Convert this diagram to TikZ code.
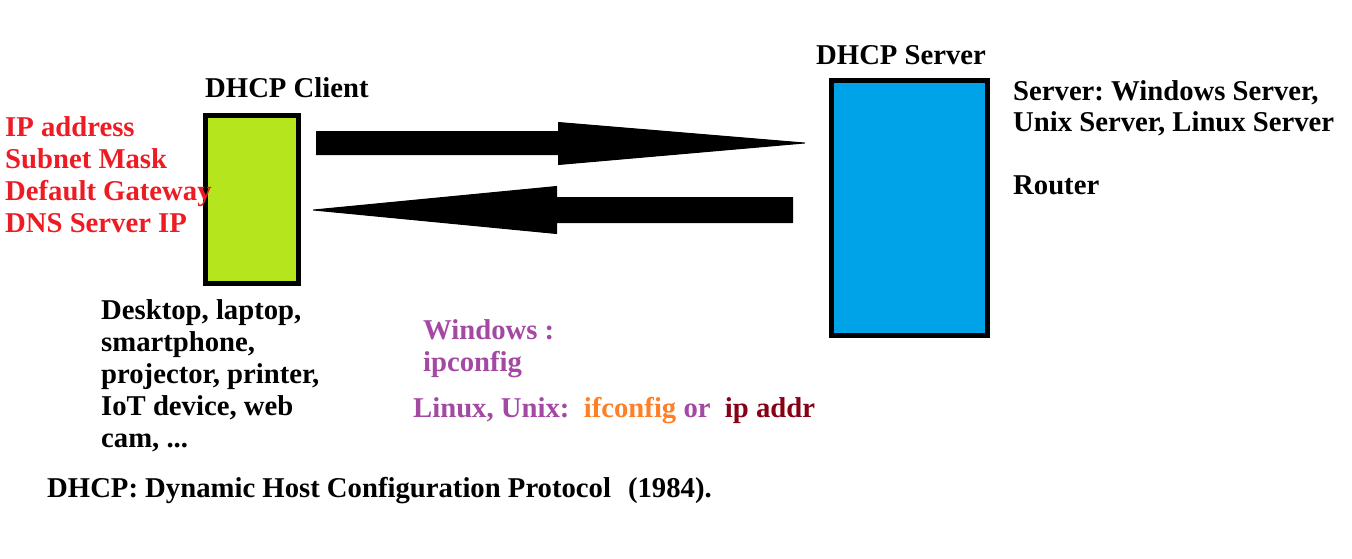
\documentclass[tikz,border=0pt]{standalone}
\usepackage{fontspec}
\setmainfont{Liberation Serif}
\usetikzlibrary{calc}
\frenchspacing
\definecolor{lime}{HTML}{B5E61D}
\definecolor{sky}{HTML}{00A2E8}
\definecolor{tred}{HTML}{ED1C24}
\definecolor{tpurple}{HTML}{A349A4}
\definecolor{torange}{HTML}{FF7F27}
\definecolor{tdark}{HTML}{880015}
\tikzset{
  txt/.style={anchor=base west, inner sep=0pt, align=left, font=\fontsize{28.7}{32}\selectfont\bfseries},
  devbox/.style={draw=black, line width=5pt, inner sep=0pt, outer sep=0pt, anchor=north west},
  bigarrow/.style={fill=black, draw=black, line width=1pt, line join=round},
}
\begin{document}
\begin{tikzpicture}[x=1pt,y=-1pt]
\useasboundingbox (0,0) rectangle (1352,558);
% boxes
\node[devbox, fill=lime, minimum width=93pt, minimum height=168pt] (client) at (205.5,115.5) {};
\node[devbox, fill=sky, minimum width=156pt, minimum height=255pt] (server) at (831.5,80.5) {};
% arrows
\coordinate (a1s) at (316.5,143);
\coordinate (a1e) at (804.5,143);
\coordinate (a2s) at (792.5,210);
\coordinate (a2e) at (313.5,210);
\filldraw[bigarrow] ($(a1s)+(0,-11.5)$) -- ($(a1e)+(-246,-11.5)$) -- ($(a1e)+(-246,-20.5)$)
  -- (a1e) -- ($(a1e)+(-246,21.5)$) -- ($(a1e)+(-246,11.5)$) -- ($(a1s)+(0,11.5)$) -- cycle;
\filldraw[bigarrow] ($(a2s)+(0,-12.5)$) -- ($(a2e)+(243,-12.5)$) -- ($(a2e)+(243,-23.5)$)
  -- (a2e) -- ($(a2e)+(243,23.5)$) -- ($(a2e)+(243,12.5)$) -- ($(a2s)+(0,12.5)$) -- cycle;
% labels
\node[txt] (lclient) at (205,97) {DHCP Client};
\node[txt] (lserver) at (816,64) {DHCP Server};
\node[txt, text=tred] (params) at (5,232) {IP address\\Subnet Mask\\Default Gateway\\DNS Server IP};
\node[txt, font=\fontsize{28.7}{31}\selectfont\bfseries] (servers) at (1013,131) {Server: Windows Server,\\Unix Server, Linux Server};
\node[txt] (router) at (1013,194) {Router};
\node[txt] (devices) at (101,447) {Desktop, laptop,\\smartphone,\\projector, printer,\\IoT device, web\\cam, ...};
\node[txt, text=tpurple] (win) at (423,371) {Windows :\\ipconfig};
\node[txt, text=tpurple] (lin) at (413,417) {Linux, Unix:\ \ \textcolor{torange}{ifconfig} or\ \ \textcolor{tdark}{ip addr}};
\node[txt] (foot) at (47,497) {DHCP: Dynamic Host Configuration Protocol\hspace{17pt}(1984).};
\end{tikzpicture}
\end{document}
